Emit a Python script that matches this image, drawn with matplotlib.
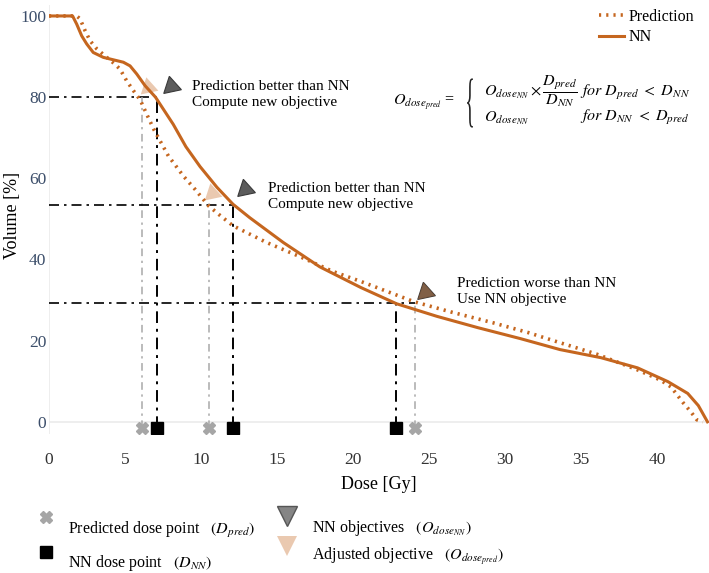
import matplotlib
matplotlib.use("Agg")
import matplotlib.pyplot as plt
from matplotlib.textpath import TextPath
from matplotlib.patches import PathPatch
from matplotlib.font_manager import FontProperties
from matplotlib.transforms import Affine2D

plt.rcParams["font.family"] = ["Liberation Serif", "DejaVu Serif"]
plt.rcParams["mathtext.fontset"] = "stix"

# DVH curves (dose [Gy], volume [%])
nn_dose = [0, 1.55, 1.82, 2.15, 2.48, 2.91, 3.57, 4.23, 4.89, 5.33, 5.77, 6.32, 7.0,
           8.17, 9.0, 9.93, 11.04, 12.1, 13.2, 15.4, 17.8, 20.5, 22.85, 25.5, 28.2,
           31.0, 33.6, 36.3, 38.7, 40.7, 42.0, 42.7, 43.3]
nn_vol = [100, 100, 98.0, 95.1, 93.1, 91.0, 89.8, 89.2, 88.6, 87.7, 85.7, 82.8, 80.0,
          73.3, 67.8, 62.9, 57.8, 53.6, 50.3, 44.2, 38.2, 33.1, 29.1, 26.0, 23.2,
          20.5, 17.8, 15.8, 13.3, 9.9, 7.0, 4.0, 0]

pred_dose = [0, 1.82, 2.04, 2.37, 2.70, 3.14, 3.80, 4.34, 4.67, 5.11, 5.55, 6.0, 6.45,
             6.9, 7.85, 8.85, 9.6, 10.5, 11.2, 12.1, 14.3, 16.5, 18.7, 20.5, 24.0,
             26.5, 29.2, 31.5, 33.6, 36.0, 38.7, 40.2, 40.9, 41.7, 42.2, 42.6, 43.0]
pred_vol = [100, 100, 99.3, 96.4, 93.9, 91.9, 89.8, 88.1, 86.9, 84.0, 81.6, 79.3, 75.6,
            72.0, 65.5, 60.5, 57.3, 53.2, 51.0, 48.3, 44.2, 40.7, 37.0, 34.6, 29.6,
            27.0, 24.4, 22.0, 19.5, 16.7, 12.8, 10.3, 8.6, 4.7, 2.5, 0.5, 0]

# dose points and objectives
pred_points = [6.1, 10.5, 24.1]
pred_tops = [80, 55, 29.3]
nn_points = [7.1, 12.1, 22.85]
nn_levels = [80, 53.5, 29.3]
nn_obj_x = [8.0, 12.9, 24.7]
nn_obj_y = [82.7, 57.3, 32.1]
adj_obj_x = [6.5, 10.7, 24.7]
adj_obj_y = [82.5, 56.5, 32.1]
notes = ["Prediction better than NN\nCompute new objective",
         "Prediction better than NN\nCompute new objective",
         "Prediction worse than NN\nUse NN objective"]
note_x = [9.4, 14.4, 26.8]
note_y = [84.3, 59.0, 35.6]

orange = "#c5661f"
tri_gray = "#5c5c5c"
axis_col = "#3c4e6a"

fig = plt.figure(figsize=(7.09, 5.73), dpi=100)
ax = fig.add_axes([49 / 709, 1 - 434 / 573, 660 / 709, 429 / 573])

# guide lines
for xp, xn, lev, top in zip(pred_points, nn_points, nn_levels, pred_tops):
    ax.plot([0, max(xn, xp) if lev < 40 else xn], [lev, lev], color="black",
            lw=1.2, ls=(0, (6, 3, 1.5, 3)), zorder=2)
    ax.plot([xn, xn], [-1.5, lev], color="black", lw=1.4,
            ls=(0, (6, 3, 1.5, 3)), zorder=2)
    ax.plot([xp, xp], [-1.5, top], color="#a8a8a8", lw=1.1,
            ls=(0, (5, 3, 1.5, 3)), zorder=2)

ax.plot(pred_dose, pred_vol, color=orange, lw=2.6, ls=(0, (0.6, 1.4)),
        label="Prediction", zorder=3)
ax.plot(nn_dose, nn_vol, color=orange, lw=2.2, label="NN", zorder=4)

ax.plot(pred_points, [-1.5] * 3, ls="none", marker="X", ms=9, color="#a6a6a6",
        mec="#a6a6a6", zorder=5)
ax.plot(nn_points, [-1.5] * 3, ls="none", marker="s", ms=8, color="black", zorder=5)

ax.plot(nn_obj_x, nn_obj_y, ls="none", marker=(3, 0, 12), ms=15, color=tri_gray,
        mec="#3a3a3a", mew=0.8, zorder=5)
ax.plot(adj_obj_x, adj_obj_y, ls="none", marker=(3, 0, 12), ms=15, color=orange,
        alpha=0.35, mew=0, zorder=6)

for s, x, y in zip(notes, note_x, note_y):
    ax.text(x, y, s, fontsize=11, va="top", ha="left", linespacing=1.3)

ax.set_xlim(0, 43.4)
ax.set_ylim(-3, 102.7)
ax.set_xticks(range(0, 45, 5))
ax.set_yticks(range(0, 101, 20))
ax.tick_params(length=0, labelsize=12.5)
ax.tick_params(axis="y", labelcolor=axis_col, pad=2)
ax.tick_params(axis="x", labelcolor="#333333", pad=13)
for sp in ax.spines.values():
    sp.set_visible(False)
ax.axhline(0, color="#ebebeb", lw=1.2, zorder=0)
ax.axvline(0, color="#ebebeb", lw=1.2, zorder=0)
ax.set_xlabel("Dose [Gy]", fontsize=13, labelpad=6)
ax.set_ylabel("Volume [%]", fontsize=13)
ax.yaxis.label.set_va("center")
ax.yaxis.set_label_coords(-0.056, 0.51)

leg = ax.legend(loc="upper right", bbox_to_anchor=(1.0, 1.025), frameon=False,
                fontsize=11.5, handlelength=1.6, handletextpad=0.3,
                labelspacing=0.3)

# overlay in pixel coordinates for the formula and the lower legend
ov = fig.add_axes([0, 0, 1, 1], facecolor="none")
ov.set_xlim(0, 709)
ov.set_ylim(573, 0)
ov.axis("off")

fs = 11.5
ov.text(455, 103, r"$O_{dose_{pred}}$ =", fontsize=fs, ha="right", va="center")
# tall thin brace: a glyph stretched vertically
brace = TextPath((0, 0), "{", size=20, prop=FontProperties(family="Liberation Serif"))
ext = brace.get_extents()
cx, cy = (ext.x0 + ext.x1) / 2, (ext.y0 + ext.y1) / 2
tr = Affine2D().translate(-cx, -cy).scale(1.0, -49 / ext.height).translate(470, 103)
ov.add_patch(PathPatch(tr.transform_path(brace), color="#222222", lw=0))
ov.text(484, 91, r"$O_{dose_{NN}} \times \dfrac{D_{pred}}{D_{NN}}$", fontsize=fs,
        ha="left", va="center")
ov.text(580, 93, r"$for\ D_{pred}\ <\ D_{NN}$", fontsize=fs, ha="left", va="center")
ov.text(484, 118, r"$O_{dose_{NN}}$", fontsize=fs, ha="left", va="center")
ov.text(580, 118, r"$for\ D_{NN}\ <\ D_{pred}$", fontsize=fs, ha="left", va="center")

ov.plot([46], [517], marker="X", ms=9, color="#a6a6a6", ls="none")
ov.plot([46], [552], marker="s", ms=8, color="black", ls="none")
ov.plot([287], [516], marker="v", ms=14, color="#858585", mec="#555555", ls="none")
ov.plot([287], [546], marker="v", ms=14, color=orange, alpha=0.35, mew=0, ls="none")
ov.text(68, 530, r"Predicted dose point   $(D_{pred})$", fontsize=11.5, va="center")
ov.text(68, 563, r"NN dose point   $(D_{NN})$", fontsize=11.5, va="center")
ov.text(312, 528, r"NN objectives   $(O_{dose_{NN}})$", fontsize=11.5, va="center")
ov.text(312, 557, r"Adjusted objective   $\left(O_{dose_{pred}}\right)$", fontsize=11.5,
        va="center")

fig.savefig("out.png", dpi=100)
